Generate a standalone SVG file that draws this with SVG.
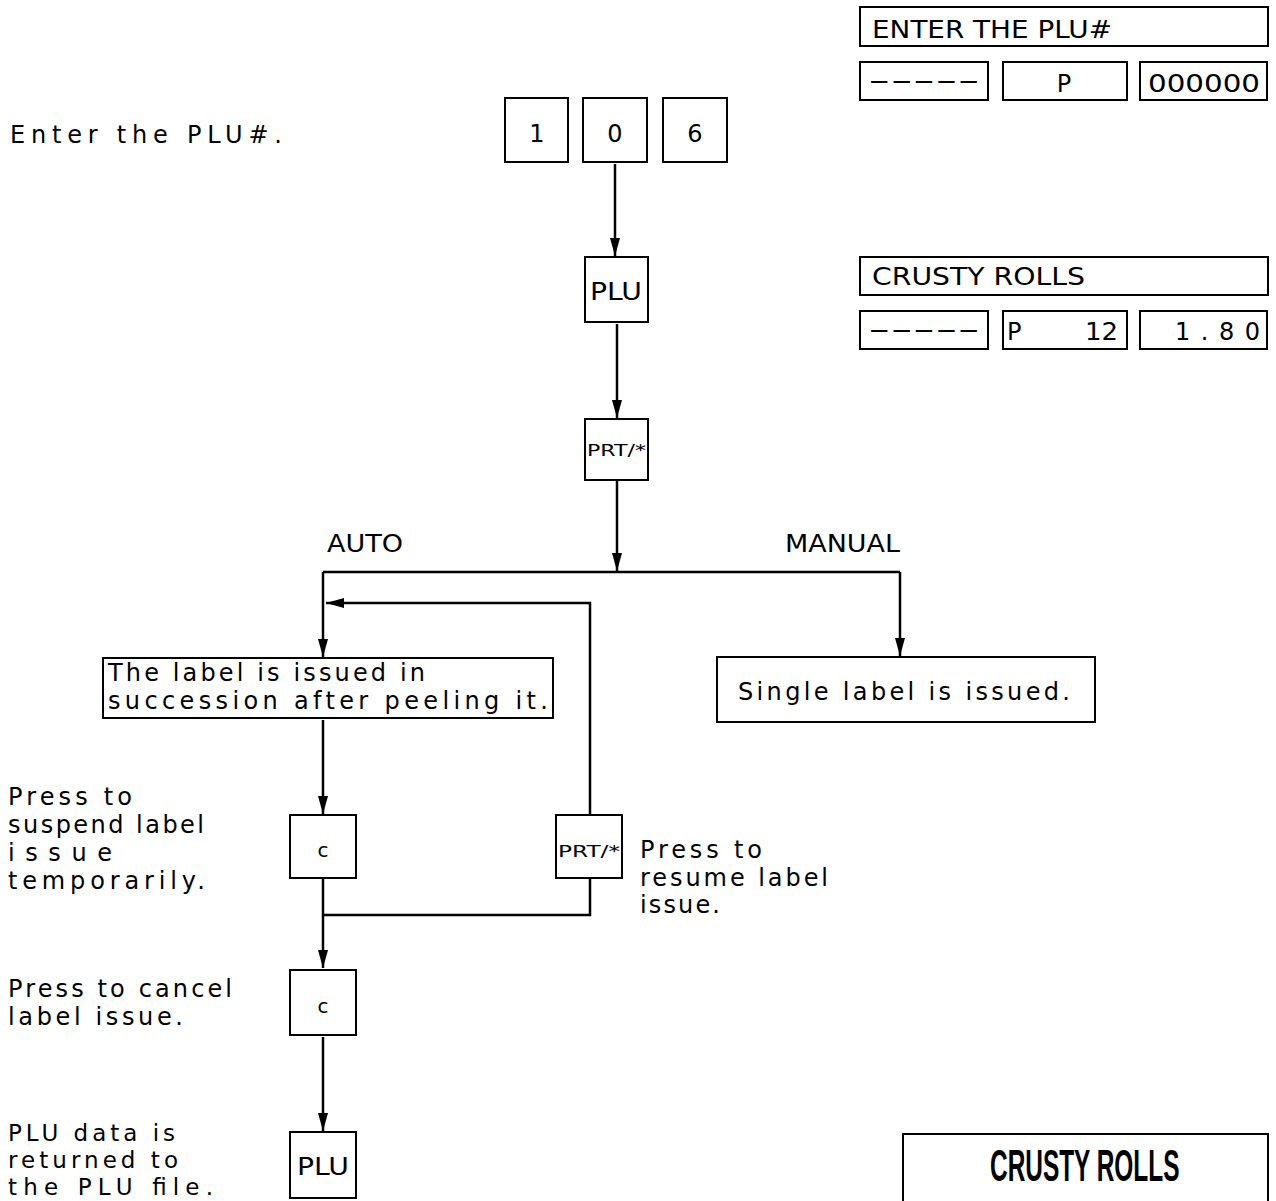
<svg xmlns="http://www.w3.org/2000/svg" width="1276" height="1201" viewBox="0 0 1276 1201">
<defs>
<marker id="ah" viewBox="0 0 18 10" refX="18" refY="5" markerWidth="18" markerHeight="10" markerUnits="userSpaceOnUse" orient="auto">
<path d="M0,0 L18,5 L0,10 z" fill="#000"/>
</marker>
<style>
.box{fill:#fff;stroke:#000;stroke-width:2}
.t{font-family:"DejaVu Sans","Liberation Sans",Arial,sans-serif;font-size:24px;fill:#000}
.k{font-family:"DejaVu Sans","Liberation Sans",Arial,sans-serif;font-size:24px;fill:#000;text-anchor:middle}
.s{font-family:"DejaVu Sans","Liberation Sans",Arial,sans-serif;font-size:15px;fill:#000}
.ln{fill:none;stroke:#000;stroke-width:2.5}
.ar{fill:none;stroke:#000;stroke-width:2.5;marker-end:url(#ah)}
</style>
</defs>
<rect width="1276" height="1201" fill="#fff"/>

<g id="connectors">
<line class="ar" x1="615" y1="164" x2="615" y2="256"/>
<line class="ar" x1="617" y1="324" x2="617" y2="418"/>
<line class="ar" x1="617" y1="481" x2="617" y2="571"/>
<polyline class="ln" points="323,572 900,572"/>
<line class="ar" x1="323" y1="572" x2="323" y2="657"/>
<line class="ar" x1="900" y1="572" x2="900" y2="656"/>
<polyline class="ar" points="590,815 590,603 326,603"/>
<line class="ar" x1="323" y1="720" x2="323" y2="814"/>
<line class="ar" x1="323" y1="879" x2="323" y2="968"/>
<polyline class="ln" points="590,879 590,915 323,915"/>
<line class="ar" x1="323" y1="1037" x2="323" y2="1131"/>
</g>

<g id="display1">
<rect class="box" x="860" y="7" width="408" height="39"/>
<text class="t" x="872" y="38" textLength="240" lengthAdjust="spacingAndGlyphs">ENTER THE PLU#</text>
<rect class="box" x="860" y="62" width="128" height="38"/>
<text class="t" x="868" y="89" textLength="112" lengthAdjust="spacingAndGlyphs">-----</text>
<rect class="box" x="1003" y="62" width="124" height="38"/>
<text class="k" x="1064" y="92">P</text>
<rect class="box" x="1140" y="62" width="127" height="38"/>
<text class="t" x="1148" y="92" textLength="112" lengthAdjust="spacingAndGlyphs">000000</text>
</g>

<g id="display2">
<rect class="box" x="860" y="257" width="408" height="38"/>
<text class="t" x="872" y="285" textLength="213" lengthAdjust="spacingAndGlyphs">CRUSTY ROLLS</text>
<rect class="box" x="860" y="311" width="128" height="38"/>
<text class="t" x="868" y="338" textLength="112" lengthAdjust="spacingAndGlyphs">-----</text>
<rect class="box" x="1003" y="311" width="124" height="38"/>
<text class="t" x="1007" y="340">P</text>
<text class="t" x="1085" y="340" textLength="33" lengthAdjust="spacingAndGlyphs">12</text>
<rect class="box" x="1140" y="311" width="127" height="38"/>
<text class="t" x="1175" y="340" textLength="85" lengthAdjust="spacing">1.80</text>
</g>

<g id="label-enter">
<text class="t" x="10" y="143" textLength="272" lengthAdjust="spacing">Enter the PLU#.</text>
</g>

<g id="key-1"><rect class="box" x="505" y="98" width="63" height="64"/><text class="k" x="537" y="142">1</text></g>
<g id="key-0"><rect class="box" x="583" y="98" width="64" height="64"/><text class="k" x="615" y="142">0</text></g>
<g id="key-6"><rect class="box" x="663" y="98" width="64" height="64"/><text class="k" x="695" y="142">6</text></g>

<g id="key-plu"><rect class="box" x="585" y="257" width="63" height="65"/><text class="k" x="616" y="300" textLength="52" lengthAdjust="spacingAndGlyphs">PLU</text></g>
<g id="key-prt"><rect class="box" x="585" y="419" width="63" height="61"/><text class="s" x="587" y="456" textLength="59" lengthAdjust="spacingAndGlyphs">PRT/*</text></g>

<g id="label-auto"><text class="t" x="327" y="552" textLength="76" lengthAdjust="spacingAndGlyphs">AUTO</text></g>
<g id="label-manual"><text class="t" x="785" y="552" textLength="115" lengthAdjust="spacingAndGlyphs">MANUAL</text></g>

<g id="box-auto">
<rect class="box" x="103" y="658" width="450" height="60"/>
<text class="t" x="108" y="681" textLength="317" lengthAdjust="spacing">The label is issued in</text>
<text class="t" x="108" y="709" textLength="440" lengthAdjust="spacing">succession after peeling it.</text>
</g>

<g id="box-manual">
<rect class="box" x="717" y="657" width="378" height="65"/>
<text class="t" x="738" y="700" textLength="332" lengthAdjust="spacing">Single label is issued.</text>
</g>

<g id="key-c1"><rect class="box" x="290" y="815" width="66" height="63"/><text class="k" x="323" y="857" style="font-size:20px">c</text></g>
<g id="key-prt2"><rect class="box" x="556" y="815" width="66" height="63"/><text class="s" x="558" y="857" textLength="62" lengthAdjust="spacingAndGlyphs">PRT/*</text></g>
<g id="key-c2"><rect class="box" x="290" y="970" width="66" height="65"/><text class="k" x="323" y="1013" style="font-size:20px">c</text></g>
<g id="key-plu2"><rect class="box" x="290" y="1132" width="66" height="66"/><text class="k" x="323" y="1175" textLength="52" lengthAdjust="spacingAndGlyphs">PLU</text></g>

<g id="note-suspend">
<text class="t" x="8" y="805" textLength="124" lengthAdjust="spacing">Press to</text>
<text class="t" x="8" y="833" textLength="196" lengthAdjust="spacing">suspend label</text>
<text class="t" x="8" y="861" textLength="104" lengthAdjust="spacing">issue</text>
<text class="t" x="8" y="889" textLength="197" lengthAdjust="spacing">temporarily.</text>
</g>
<g id="note-resume">
<text class="t" x="640" y="858" textLength="122" lengthAdjust="spacing">Press to</text>
<text class="t" x="640" y="886" textLength="188" lengthAdjust="spacing">resume label</text>
<text class="t" x="640" y="913" textLength="80" lengthAdjust="spacing">issue.</text>
</g>
<g id="note-cancel">
<text class="t" x="8" y="997" textLength="224" lengthAdjust="spacing">Press to cancel</text>
<text class="t" x="8" y="1025" textLength="175" lengthAdjust="spacing">label issue.</text>
</g>
<g id="note-return">
<text class="t" x="8" y="1141" style="font-size:23px" textLength="167" lengthAdjust="spacing">PLU data is</text>
<text class="t" x="8" y="1168" style="font-size:23px" textLength="170" lengthAdjust="spacing">returned to</text>
<text class="t" x="8" y="1195" style="font-size:23px" textLength="205" lengthAdjust="spacing">the PLU file.</text>
</g>

<g id="printed-label">
<path d="M903,1201 L903,1134 L1268,1134 L1268,1201" class="box"/>
<text transform="translate(990,1181) scale(0.555,1)" style="font-family:'Liberation Sans',Arial,sans-serif;font-size:44px;font-weight:bold">CRUSTY ROLLS</text>
</g>
</svg>
